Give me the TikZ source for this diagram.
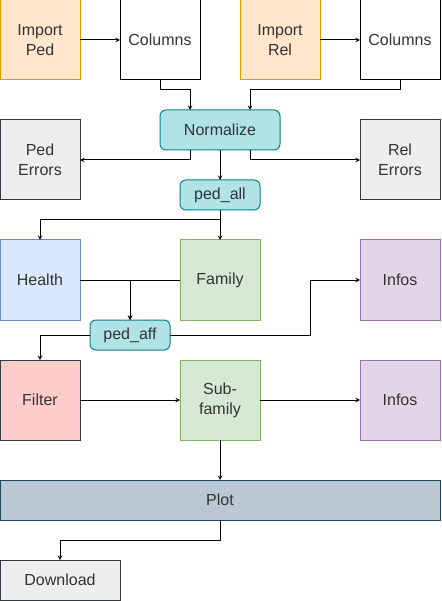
\documentclass[tikz,border=0pt]{standalone}
\usepackage{fontspec}
\setmainfont{Liberation Sans}
\usepackage{tikz}
\usetikzlibrary{positioning,calc}
\definecolor{impfill}{HTML}{FFE6CC}\definecolor{impline}{HTML}{D79B00}
\definecolor{normfill}{HTML}{B0E3E6}\definecolor{normline}{HTML}{0E8088}
\definecolor{greyfill}{HTML}{EEEEEE}\definecolor{greyline}{HTML}{36393D}
\definecolor{bluefill}{HTML}{DAE8FC}\definecolor{blueline}{HTML}{6C8EBF}
\definecolor{greenfill}{HTML}{D5E8D4}\definecolor{greenline}{HTML}{82B366}
\definecolor{purpfill}{HTML}{E1D5E7}\definecolor{purpline}{HTML}{9673A6}
\definecolor{redfill}{HTML}{FFCCCC}
\definecolor{plotfill}{HTML}{BAC8D3}\definecolor{plotline}{HTML}{23445D}
\tikzset{block/.style={draw,line width=1pt,minimum width=80pt,minimum height=80pt,align=center,inner sep=2pt,outer sep=0pt,text=black!80,font=\fontsize{16}{20}\selectfont},
         data/.style={block,rounded corners=6pt,fill=normfill,draw=normline,minimum height=30pt}
}
\tikzstyle{arrow} = [line width=1pt,->,>=stealth]

\begin{document}
\begin{tikzpicture}[x=1pt,y=-1pt]
\useasboundingbox (0,0) rectangle (441,601);

\node[block,fill=impfill,draw=impline] (impped) at (40,40) {Import\\Ped};
\node[block,right=40pt of impped] (colped) {Columns};
\node[block,fill=impfill,draw=impline,right=40pt of colped] (imprel) {Import\\Rel};
\node[block,right=40pt of imprel] (colrel) {Columns};
\node[data,minimum width=120pt,minimum height=40pt] (norm) at (220,130) {Normalize};
\node[block,fill=greyfill,draw=greyline,below=40pt of impped] (pederr) {Ped\\Errors};
\node[block,fill=greyfill,draw=greyline,below=40pt of colrel] (relerr) {Rel\\Errors};
\node[data,below=30pt of norm] (pedall) {ped\_all};
\node[block,fill=greenfill,draw=greenline,below=30pt of pedall] (family) {Family};
\node[block,fill=bluefill,draw=blueline,left=100pt of family] (health) {Health};
\node[block,fill=purpfill,draw=purpline,right=100pt of family] (infoa) {Infos};
\node[data] (pedaff) at (130,335) {ped\_aff};
\node[block,fill=greenfill,draw=greenline,below=40pt of family] (subfam) {Sub-\\family};
\node[block,fill=redfill,draw=greyline,left=100pt of subfam] (filter) {Filter};
\node[block,fill=purpfill,draw=purpline,right=100pt of subfam] (infob) {Infos};
\node[block,fill=plotfill,draw=plotline,minimum width=440pt,minimum height=40pt,below=40pt of subfam] (plot) {Plot};
\node[block,fill=greyfill,draw=greyline,minimum width=120pt,minimum height=40pt,below=40pt of plot.south west,anchor=north west] (download) {Download};

\draw[arrow] (impped)--(colped);
\draw[arrow] (imprel)--(colrel);
\draw[arrow] (colped.south)--++(0,10)-|([xshift=-30pt]norm.north);
\draw[arrow] (colrel.south)--++(0,10)-|([xshift=30pt]norm.north);
\draw[arrow] ([xshift=-30pt]norm.south)|-(pederr);
\draw[arrow] ([xshift=30pt]norm.south)|-(relerr);
\draw[arrow] (norm)--(pedall);
\draw[arrow] (pedall)--(family);
\draw[arrow] (pedall.south)--++(0,10)-|(health);
\draw[arrow] (health)-|(pedaff);
\draw[arrow] (family)-|(pedaff);
\draw[arrow] (pedaff)-|(filter);
\draw[arrow] (pedaff.east)--++(140,0)|-(infoa);
\draw[arrow] (filter)--(subfam);
\draw[arrow] (subfam)--(infob);
\draw[arrow] (subfam)--(plot);
\draw[arrow] (plot.south)--++(0,20)-|(download);

\end{tikzpicture}
\end{document}
